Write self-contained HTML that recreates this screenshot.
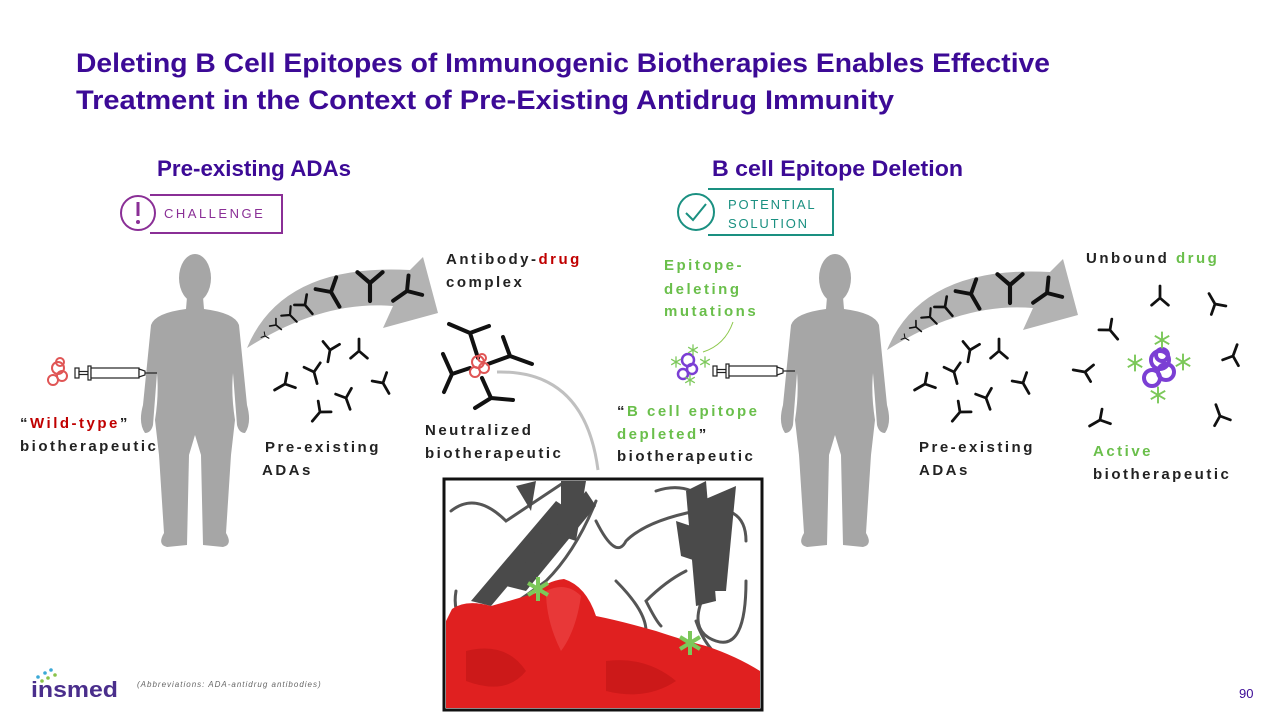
<!DOCTYPE html>
<html><head><meta charset="utf-8"><style>
html,body{margin:0;padding:0;background:#fff;}
svg{display:block;font-family:"Liberation Sans",Arial,sans-serif;}
</style></head><body>
<svg width="1280" height="720" viewBox="0 0 1280 720" xmlns="http://www.w3.org/2000/svg">
<defs>
<g id="y"><path d="M0 0 L0 10 M0 0 L-7 -6 M0 0 L7 -6" stroke="#111" stroke-width="2.3" fill="none" stroke-linecap="round"/></g>
<g id="man">
<ellipse cx="0" cy="23" rx="16" ry="24" fill="#a6a6a6"/>
<path fill="#a6a6a6" d="M-8 42 L8 42 L9 54 Q40 58 44 70 Q48 110 52 150 Q57 168 50 178 Q44 178 42 170 L38 118 Q36 140 40 165 L36 200 L31 278 Q38 290 28 292 L8 290 L6 200 L0 180 L-6 200 L-8 290 L-28 292 Q-38 290 -31 278 L-36 200 L-40 165 Q-36 140 -38 118 L-42 170 Q-44 178 -50 178 Q-57 168 -52 150 Q-48 110 -44 70 Q-40 58 -9 54 Z"/>
</g>
<g id="arrow">
<path fill="#b3b3b3" d="M0 0 Q35 -85 163 -78 L176 -91 L191 -35 L136 -20 L146 -42 Q75 -48 0 0 Z"/>
</g>
<g id="syr" fill="#fff" stroke="#222" stroke-width="1.2">
<rect x="0" y="-5" width="4" height="10"/><rect x="4" y="-1.5" width="9" height="3"/><rect x="13" y="-7" width="3" height="14"/>
<rect x="16" y="-5" width="48" height="10"/><path d="M64 -4 L70 -2 L70 2 L64 4 Z"/><path d="M70 0 L82 0" fill="none"/>
</g>
<g id="ast"><path d="M0 -7 V7 M-6 -3.5 L6 3.5 M-6 3.5 L6 -3.5" stroke="#7cc85a" stroke-width="1.6"/></g>
<g id="arrabs">
<use href="#y" transform="translate(265,336) rotate(-60) scale(0.45)"/>
<use href="#y" transform="translate(276,325) rotate(-50) scale(0.7)"/>
<use href="#y" transform="translate(290,315) rotate(-45) scale(0.95)"/>
<use href="#y" transform="translate(305,305) rotate(-40) scale(1.15)"/>
<use href="#y" transform="translate(331,292) rotate(-30) scale(1.7)"/>
<use href="#y" transform="translate(370,283) rotate(0) scale(1.8)"/>
<use href="#y" transform="translate(407,291) rotate(55) scale(1.7)"/>
</g>
</defs>

<text x="76" y="72" font-size="27" font-weight="bold" fill="#3c0a96" textLength="974" lengthAdjust="spacingAndGlyphs">Deleting B Cell Epitopes of Immunogenic Biotherapies Enables Effective</text>
<text x="76" y="109" font-size="27" font-weight="bold" fill="#3c0a96" textLength="818" lengthAdjust="spacingAndGlyphs">Treatment in the Context of Pre-Existing Antidrug Immunity</text>

<text x="157" y="176" font-size="22" font-weight="bold" fill="#3c0a96" textLength="194" lengthAdjust="spacingAndGlyphs">Pre-existing ADAs</text>
<text x="712" y="176" font-size="22" font-weight="bold" fill="#3c0a96" textLength="251" lengthAdjust="spacingAndGlyphs">B cell Epitope Deletion</text>

<path d="M150 195 H282 V233 H150" fill="none" stroke="#8a2f96" stroke-width="2"/>
<circle cx="138" cy="213" r="17" fill="#fff" stroke="#8a2f96" stroke-width="2"/>
<rect x="136.5" y="202" width="3" height="14" fill="#8a2f96"/><circle cx="138" cy="222" r="2" fill="#8a2f96"/>
<text x="164" y="218" font-size="13" fill="#8a2f96" letter-spacing="2.5">CHALLENGE</text>
<path d="M708 189 H833 V235 H708" fill="none" stroke="#1a9081" stroke-width="2"/>
<circle cx="696" cy="212" r="18" fill="#fff" stroke="#1a9081" stroke-width="2"/>
<path d="M686 213 L693 220 L706 204" fill="none" stroke="#1a9081" stroke-width="2"/>
<text x="728" y="209" font-size="13" fill="#1a9081" letter-spacing="1.8">POTENTIAL</text>
<text x="728" y="228" font-size="13" fill="#1a9081" letter-spacing="1.8">SOLUTION</text>

<use href="#man" transform="translate(195,255)"/>
<use href="#man" transform="translate(835,255)"/>
<use href="#arrow" transform="translate(247,348)"/>
<use href="#arrow" transform="translate(887,350)"/>
<use href="#arrabs"/>
<use href="#arrabs" transform="translate(640,2)"/>

<g id="ada">
<use href="#y" transform="translate(330,350) rotate(10) scale(1.2)"/>
<use href="#y" transform="translate(359,351) rotate(180) scale(1.2)"/>
<use href="#y" transform="translate(314,372) rotate(-15) scale(1.2)"/>
<use href="#y" transform="translate(285,384) rotate(60) scale(1.2)"/>
<use href="#y" transform="translate(383,383) rotate(-30) scale(1.2)"/>
<use href="#y" transform="translate(346,398) rotate(-20) scale(1.2)"/>
<use href="#y" transform="translate(320,412) rotate(40) scale(1.2)"/>
</g>
<use href="#ada" transform="translate(640,0)"/>

<use href="#y" transform="translate(1160,298) rotate(180) scale(1.2)"/>
<use href="#y" transform="translate(1215,304) rotate(150) scale(1.2)"/>
<use href="#y" transform="translate(1110,330) rotate(-40) scale(1.2)"/>
<use href="#y" transform="translate(1085,372) rotate(100) scale(1.2)"/>
<use href="#y" transform="translate(1233,356) rotate(200) scale(1.2)"/>
<use href="#y" transform="translate(1100,420) rotate(60) scale(1.2)"/>
<use href="#y" transform="translate(1220,416) rotate(160) scale(1.2)"/>

<path d="M478 358 L470 333 M470 333 L449 324 M470 333 L489 326 M470 368 L452 374 M452 374 L443 354 M452 374 L444 392 M488 364 L510 356 M510 356 L503 337 M510 356 L532 364 M482 378 L491 398 M491 398 L475 408 M491 398 L513 400" stroke="#111" stroke-width="4" fill="none" stroke-linecap="round"/>
<g fill="none" stroke="#e05555" stroke-width="2">
<circle cx="478" cy="362" r="6"/><circle cx="484" cy="368" r="5"/><circle cx="475" cy="372" r="5"/><circle cx="482" cy="358" r="4"/>
</g>
<path d="M497 372 Q585 370 598 470" fill="none" stroke="#c0c0c0" stroke-width="3"/>

<g fill="none" stroke="#e05555" stroke-width="2">
<circle cx="58" cy="368" r="6"/><circle cx="62" cy="376" r="5"/><circle cx="53" cy="380" r="5"/><circle cx="60" cy="362" r="4"/>
</g>
<use href="#syr" transform="translate(75,373)"/>
<use href="#syr" transform="translate(713,371)"/>

<g fill="none" stroke="#7b3fd4" stroke-width="2.5">
<circle cx="688" cy="360" r="6"/><circle cx="692" cy="369" r="5"/><circle cx="683" cy="374" r="5"/>
</g>
<use href="#ast" transform="translate(693,350) scale(0.8)"/>
<use href="#ast" transform="translate(676,362) scale(0.8)"/>
<use href="#ast" transform="translate(705,362) scale(0.8)"/>
<use href="#ast" transform="translate(690,380) scale(0.8)"/>
<path d="M703 352 Q725 345 733 322" fill="none" stroke="#8cc84b" stroke-width="1"/>

<g fill="none" stroke="#7b3fd4" stroke-width="4">
<circle cx="1160" cy="360" r="9"/><circle cx="1166" cy="372" r="8"/><circle cx="1152" cy="378" r="8"/><circle cx="1162" cy="355" r="6"/>
</g>
<use href="#ast" transform="translate(1162,340) scale(1.2)"/>
<use href="#ast" transform="translate(1135,363) scale(1.2)"/>
<use href="#ast" transform="translate(1183,362) scale(1.2)"/>
<use href="#ast" transform="translate(1158,395) scale(1.2)"/>

<g font-size="15" font-weight="bold" fill="#222" letter-spacing="2.5">
<text x="20" y="428"><tspan>“</tspan><tspan fill="#c00000">Wild-type</tspan><tspan>”</tspan></text>
<text x="20" y="451">biotherapeutic</text>
<text x="265" y="452">Pre-existing</text>
<text x="262" y="475">ADAs</text>
<text x="446" y="264">Antibody-<tspan fill="#c00000">drug</tspan></text>
<text x="446" y="287">complex</text>
<text x="425" y="435">Neutralized</text>
<text x="425" y="458">biotherapeutic</text>
<text x="664" y="270" fill="#6abf4b">Epitope-</text>
<text x="664" y="294" fill="#6abf4b">deleting</text>
<text x="664" y="316" fill="#6abf4b">mutations</text>
<text x="617" y="416" fill="#6abf4b"><tspan fill="#222">“</tspan>B cell epitope</text>
<text x="617" y="439" fill="#6abf4b">depleted<tspan fill="#222">”</tspan></text>
<text x="617" y="461">biotherapeutic</text>
<text x="919" y="452">Pre-existing</text>
<text x="919" y="475">ADAs</text>
<text x="1086" y="263">Unbound <tspan fill="#6abf4b">drug</tspan></text>
<text x="1093" y="456" fill="#6abf4b">Active</text>
<text x="1093" y="479">biotherapeutic</text>
</g>

<rect x="444" y="479" width="318" height="231" fill="#fff" stroke="#111" stroke-width="3"/>
<svg x="446" y="481" width="314" height="227" viewBox="0 0 314 227">
<g fill="none" stroke="#555" stroke-width="3" stroke-linecap="round">
<path d="M5 30 Q30 10 60 40 Q90 20 120 0"/>
<path d="M10 110 Q5 140 30 145 Q60 130 100 100 Q130 70 150 20"/>
<path d="M150 40 Q170 80 180 60 Q200 40 250 30 Q300 20 300 60"/>
<path d="M170 100 Q200 130 200 150 M240 90 Q220 100 200 120 Q210 140 215 145"/>
<path d="M260 110 Q240 150 270 160 Q300 170 300 100 M250 140 Q260 170 285 185"/>
<path d="M210 10 Q240 0 260 20"/>
</g>
<g fill="#4a4a4a">
<path d="M25 120 L110 20 L125 30 L45 125 Z"/>
<path d="M60 105 L140 10 L150 25 L80 110 Z"/>
<path d="M70 5 L90 0 L85 30 Z"/>
<path d="M115 0 L140 0 L130 60 L115 55 Z"/>
<path d="M240 10 L260 0 L270 120 L250 125 Z"/>
<path d="M255 20 L290 5 L280 110 L265 110 Z"/>
<path d="M230 40 L260 50 L250 80 L235 75 Z"/>
</g>
<path fill="#e02020" d="M6 128 Q20 118 45 125 Q70 118 90 112 Q100 100 118 98 Q140 105 150 135 Q175 140 210 150 Q240 160 260 165 Q290 175 314 190 L314 227 L0 227 L0 140 Z"/>
<path fill="#f05050" opacity="0.5" d="M100 110 Q120 100 135 115 Q130 150 115 170 Q100 140 100 110 Z"/>
<path fill="#b01010" opacity="0.4" d="M20 170 Q60 160 80 190 Q60 215 20 200 Z M160 180 Q200 175 230 200 Q200 220 160 210 Z"/>
<g stroke="#7cc85a" stroke-width="4"><path d="M92 96 V120 M82 102 L102 114 M82 114 L102 102"/><path d="M244 150 V174 M234 156 L254 168 M234 168 L254 156"/></g>
</svg>

<g fill="#3ba9d6"><circle cx="45" cy="673" r="1.8"/><circle cx="51" cy="670" r="1.8"/><circle cx="38" cy="677" r="1.8"/></g>
<g fill="#8bc34a"><circle cx="48" cy="678" r="1.8"/><circle cx="55" cy="675" r="1.8"/><circle cx="42" cy="681" r="1.8"/></g>
<text x="31" y="697" font-size="22" font-weight="bold" fill="#4a2e8c" textLength="87" lengthAdjust="spacingAndGlyphs">insmed</text>
<text x="137" y="687" font-size="8" font-style="italic" fill="#666" letter-spacing="1">(Abbreviations: ADA-antidrug antibodies)</text>
<text x="1239" y="698" font-size="13" fill="#3c0a96">90</text>
</svg>
</body></html>
